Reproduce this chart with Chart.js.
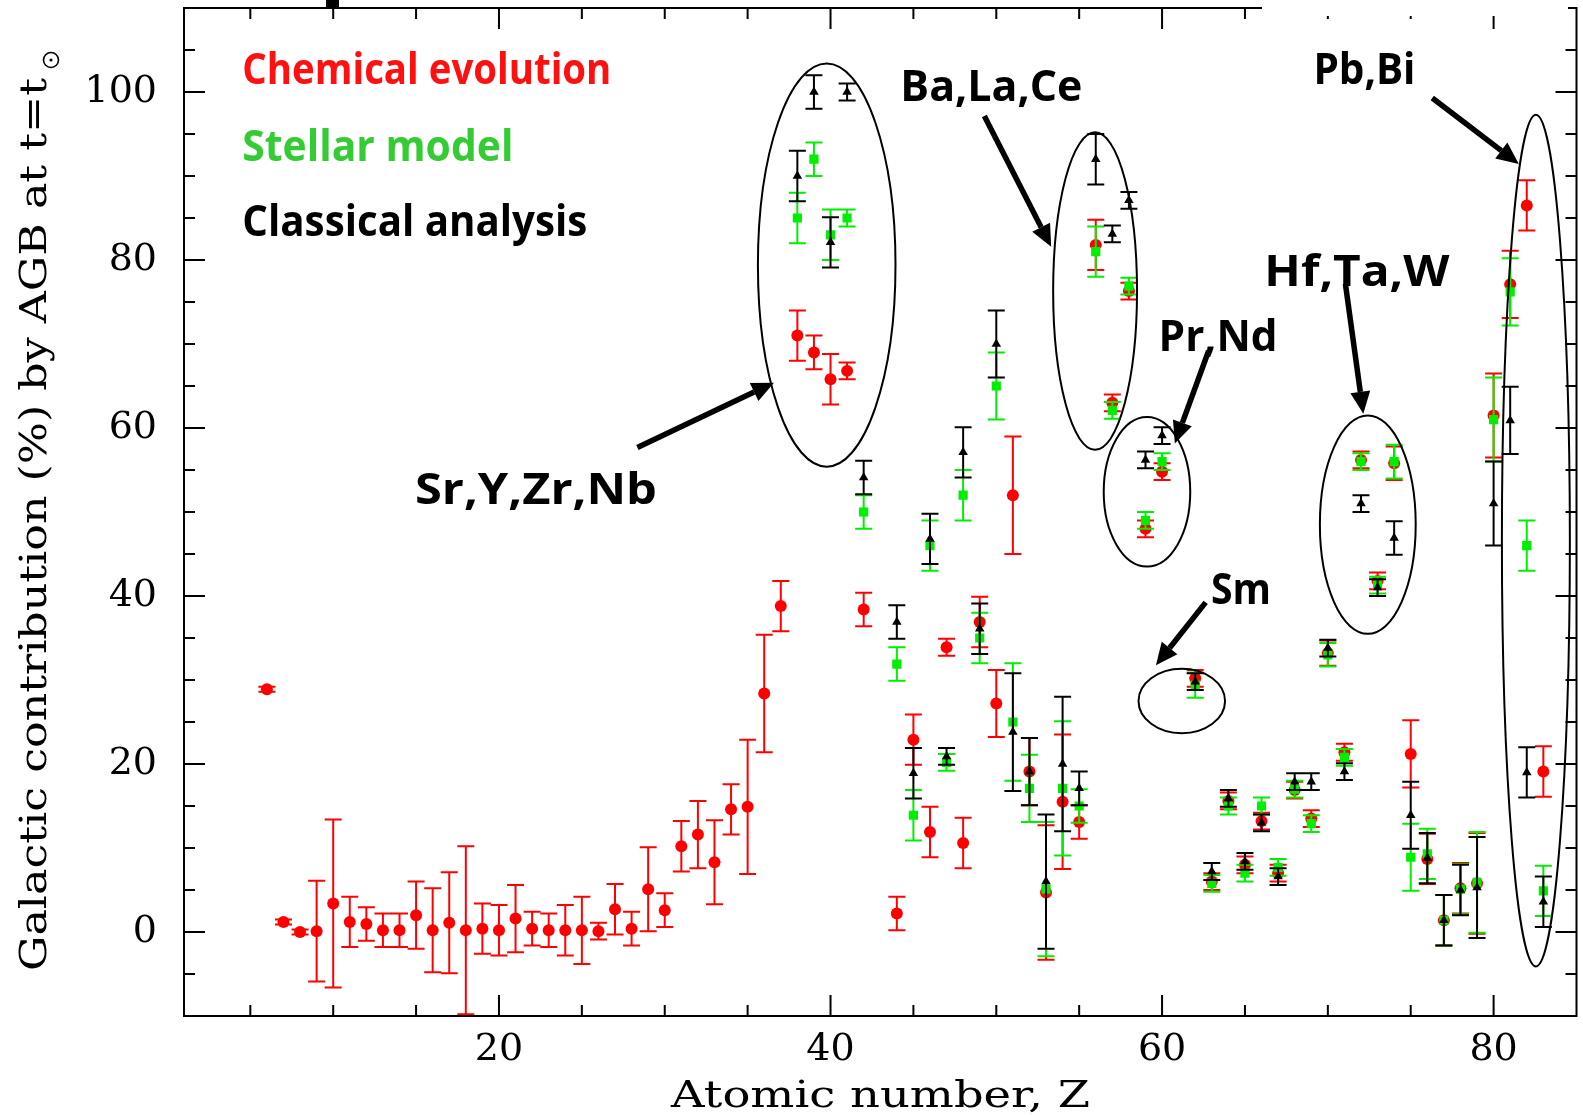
<!DOCTYPE html>
<html>
<head>
<meta charset="utf-8">
<title>Galactic s-process contribution by AGB stars</title>
<script src="https://cdn.jsdelivr.net/npm/chart.js@4.4.1/dist/chart.umd.min.js"></script>
<style>
  html, body { margin: 0; padding: 0; background: #fff; }
  #wrap { width: 1583px; height: 1115px; position: relative; }
</style>
</head>
<body>
<div id="wrap"><canvas id="chart" width="1583" height="1115"></canvas></div>
<script>
// ---- Data: galactic contribution (%) by AGB stars at t = t_sun, per atomic number Z ----

const seriesNames = ['Chemical evolution', 'Stellar model', 'Classical analysis'];

// Chemical evolution
const redZ = [6, 7, 8, 9, 10, 11, 12, 13, 14, 15, 16, 17, 18, 19, 20, 21, 22, 23, 24, 25, 26, 27, 28, 29, 30,
  31, 32, 33, 34, 35, 36, 37, 38, 39, 40, 41, 42, 44, 45, 46, 47, 48, 49, 50, 51, 52, 53, 54, 55,
  56, 57, 58, 59, 60, 62, 63, 64, 65, 66, 67, 68, 69, 70, 71, 72, 73, 74, 75, 76, 77, 78, 79, 80, 81, 82, 83];
const redVal = [28.9, 1.2, 0.0, 0.1, 3.4, 1.2, 0.95, 0.2, 0.2, 2.0, 0.2, 1.1, 0.2, 0.4, 0.2, 1.6, 0.4, 0.2, 0.2, 0.2, 0.1, 2.7, 0.4, 5.1, 2.6,
  10.2, 11.6, 8.3, 14.6, 14.9, 28.4, 38.8, 71.0, 69.0, 65.8, 66.8, 38.4, 2.2, 22.9, 11.9, 33.9, 10.6, 36.9, 27.2, 52.0, 19.1, 4.7, 15.5, 13.1,
  81.8, 63.0, 76.3, 48.0, 54.8, 30.2, 6.0, 15.6, 8.0, 13.2, 7.0, 16.9, 13.5, 33.2, 21.4, 56.2, 41.8, 55.8, 21.2, 8.7, 1.4, 5.2, 5.8, 61.5, 77.1, 86.5, 19.1];
const redErr = [0.3, 0.3, 0.3, 6, 10, 3, 2, 2, 2, 4, 5, 6, 10, 3, 3, 4, 2, 2, 3, 4, 1, 3, 2, 5, 2,
  3, 4, 5, 3, 8, 7, 3, 3, 2, 3, 1, 2, 2, 3, 3, 1, 3, 3, 4, 7, 4, 8, 8, 2,
  3, 1, 1, 1, 1, 1, 1, 1, 1, 1, 1, 1, 1, 1.5, 1, 1, 1, 2, 4, 3, 3, 3, 6, 5, 4, 3, 3];

// Stellar model
const greenZ = [38, 39, 40, 41, 42, 44, 45, 46, 47, 48, 49, 50, 51, 52, 53, 54, 55, 56, 57, 58, 59, 60,
  62, 63, 64, 65, 66, 67, 68, 69, 70, 71, 72, 73, 74, 75, 76, 77, 78, 79, 80, 81, 82, 83];
const greenVal = [85.0, 92.0, 83.0, 85.0, 50.0, 31.9, 13.9, 46.0, 20.2, 52.0, 35.0, 65.0, 25.0, 17.1, 5.1, 17.1, 15.0, 81.0, 62.1, 76.9, 49.0, 56.0,
  29.4, 5.8, 15.0, 7.0, 15.0, 7.7, 17.0, 12.9, 33.0, 20.8, 56.0, 41.3, 56.0, 8.9, 9.3, 1.4, 5.1, 5.9, 61.0, 76.2, 46.0, 4.9];
const greenErr = [3, 2, 3, 1, 2, 2, 3, 3, 1, 3, 3, 4, 7, 4, 8, 8, 2, 3, 1, 1, 1, 1,
  1.5, 1, 1, 1, 1, 1, 1, 1, 1.4, 1, 1, 1, 2, 4, 3, 3, 3, 6, 5, 4, 3, 3];

// Classical analysis
const blackZ = [38, 39, 40, 41, 42, 44, 45, 46, 47, 48, 49, 50, 51, 52, 53, 54, 55, 56, 57, 58, 59, 60,
  62, 63, 64, 65, 66, 67, 68, 69, 70, 71, 72, 73, 74, 75, 76, 77, 78, 79, 80, 81, 82, 83];
const blackVal = [90.0, 100.0, 82.1, 100.0, 54.1, 36.9, 18.9, 46.8, 20.9, 57.1, 36.1, 70.0, 23.8, 19.1, 6.0, 20.0, 17.1, 92.0, 83.1, 87.1, 56.2, 59.1,
  29.8, 7.2, 15.9, 8.4, 13.0, 6.6, 17.9, 17.9, 33.8, 19.1, 51.0, 41.0, 46.9, 13.9, 8.8, 1.4, 5.0, 5.3, 51.0, 60.9, 19.0, 3.6];
const blackErr = [3, 2, 3, 1, 2, 2, 3, 3, 1, 3, 3, 4, 7, 4, 8, 8, 2, 3, 1, 1, 1, 1,
  1, 1, 1, 1, 1, 1, 1, 1, 1, 1, 1, 1, 2, 4, 3, 3, 3, 6, 5, 4, 3, 3];

// Axis tick labels
const xTickLabels = [20, 40, 60, 80];
const yTickLabels = [0, 20, 40, 60, 80, 100];

// Element groups called out on the plot
const groupNames = ['Sr,Y,Zr,Nb', 'Ba,La,Ce', 'Pr,Nd', 'Sm', 'Hf,Ta,W', 'Pb,Bi'];

// ---- Annotation layout (data coordinates: x = Z, y = %) ----
const groupLayout = [
  { label: { x: 14.93, y: 51.0, w: 242 }, ellipse: { cx: 39.77, cy: 79.4, rx: 4.15, ry: 24.0 }, arrow: [28.35, 57.67, 36.59, 65.4] },
  { label: { x: 44.21, y: 98.93, w: 182 }, ellipse: { cx: 55.96, cy: 76.3, rx: 2.53, ry: 18.9 }, arrow: [49.28, 97.15, 53.31, 81.57] },
  { label: { x: 59.79, y: 69.2, w: 119 }, ellipse: { cx: 59.09, cy: 52.4, rx: 2.61, ry: 8.9 }, arrow: [62.81, 69.2, 60.77, 58.15] },
  { label: { x: 62.95, y: 39.08, w: 60 }, ellipse: { cx: 61.19, cy: 27.5, rx: 2.61, ry: 3.84 }, arrow: [62.63, 39.24, 59.63, 31.75] },
  { label: { x: 66.17, y: 76.93, w: 185 }, ellipse: { cx: 72.41, cy: 48.5, rx: 2.89, ry: 13.0 }, arrow: [71.06, 77.17, 72.14, 61.71] },
  { label: { x: 69.13, y: 100.99, w: 102 }, ellipse: { cx: 82.55, cy: 46.6, rx: 2.05, ry: 50.7 }, arrow: [76.3, 99.29, 81.52, 91.44] }
];
const keyLayout = [
  { x: 4.52, y: 100.9, w: 369, color: '#ff1010' },
  { x: 4.52, y: 91.8, w: 271, color: '#33cc33' },
  { x: 4.52, y: 82.9, w: 345, color: '#000000' }
];

const RED = '#ff0000', GREEN = '#00ee00', BLACK = '#000000';
const toPoints = (zs, vs) => zs.map((z, i) => ({ x: z, y: vs[i] }));

// Vertical error bars with caps, drawn under each dataset's markers
const errorBars = {
  id: 'errorBars',
  beforeDatasetDraw(chart, args) {
    const ds = chart.data.datasets[args.index];
    if (!ds.errors) return;
    const { ctx, chartArea: a, scales: { x, y } } = chart;
    ctx.save();
    ctx.beginPath();
    ctx.rect(a.left, a.top, a.right - a.left, a.bottom - a.top);
    ctx.clip();
    ctx.strokeStyle = ds.errorColor;
    ctx.lineWidth = 2;
    const cap = 8.5;
    ds.data.forEach((p, i) => {
      const e = ds.errors[i];
      const px = x.getPixelForValue(p.x);
      const y1 = y.getPixelForValue(p.y + e);
      const y2 = y.getPixelForValue(p.y - e);
      ctx.beginPath();
      ctx.moveTo(px, y1); ctx.lineTo(px, y2);
      ctx.moveTo(px - cap, y1); ctx.lineTo(px + cap, y1);
      ctx.moveTo(px - cap, y2); ctx.lineTo(px + cap, y2);
      ctx.stroke();
    });
    ctx.restore();
  }
};

// Text fitted to a box: cap height sets the size, width sets the horizontal scale
function boxText(ctx, text, left, baseline, width, capH, family, weight, capRatio, color) {
  ctx.save();
  ctx.font = `${weight} ${capH / capRatio}px ${family}`;
  ctx.fillStyle = color;
  ctx.textAlign = 'left';
  ctx.textBaseline = 'alphabetic';
  const m = ctx.measureText(text).width;
  ctx.translate(left, baseline);
  ctx.scale(width / m, 1);
  ctx.fillText(text, 0, 0);
  ctx.restore();
}

function arrow(ctx, x1, y1, x2, y2) {
  const ang = Math.atan2(y2 - y1, x2 - x1);
  const headL = 22, headW = 10;
  const bx = x2 - Math.cos(ang) * headL, by = y2 - Math.sin(ang) * headL;
  ctx.save();
  ctx.strokeStyle = '#000';
  ctx.fillStyle = '#000';
  ctx.lineWidth = 5.5;
  ctx.beginPath();
  ctx.moveTo(x1, y1); ctx.lineTo(bx, by);
  ctx.stroke();
  ctx.beginPath();
  ctx.moveTo(x2, y2);
  ctx.lineTo(bx + Math.sin(ang) * headW, by - Math.cos(ang) * headW);
  ctx.lineTo(bx - Math.sin(ang) * headW, by + Math.cos(ang) * headW);
  ctx.closePath();
  ctx.fill();
  ctx.restore();
}

// Boxed frame with inward ticks, titles, key and group call-outs
const decorations = {
  id: 'decorations',
  afterDraw(chart) {
    const { ctx, chartArea: a, scales: { x, y } } = chart;
    ctx.save();
    ctx.strokeStyle = '#000';
    ctx.lineWidth = 2;
    ctx.strokeRect(a.left, a.top, a.right - a.left, a.bottom - a.top);
    ctx.beginPath();
    for (let v = 5; v < 85; v += 5) {
      const L = v % 20 === 0 ? 21 : 11;
      const px = x.getPixelForValue(v);
      ctx.moveTo(px, a.bottom); ctx.lineTo(px, a.bottom - L);
      ctx.moveTo(px, a.top); ctx.lineTo(px, a.top + L);
    }
    for (let v = -5; v < 110; v += 5) {
      const L = v % 20 === 0 ? 21 : 11;
      const py = y.getPixelForValue(v);
      ctx.moveTo(a.left, py); ctx.lineTo(a.left + L, py);
      ctx.moveTo(a.right, py); ctx.lineTo(a.right - L, py);
    }
    ctx.stroke();
    ctx.restore();

    // blank strip over the upper right part of the frame, and a clipped heading mark
    ctx.save();
    ctx.fillStyle = '#fff';
    ctx.fillRect(1262, 0, 306, 16);
    ctx.fillStyle = '#000';
    ctx.fillRect(326, 0, 13, 7);
    ctx.restore();

    // axis titles
    const serif = '"DejaVu Serif", serif';
    boxText(ctx, 'Atomic number, Z', 671, 1107, 419, 27, serif, 'normal', 0.729, '#000');
    ctx.save();
    ctx.translate(46, 971);
    ctx.rotate(-Math.PI / 2);
    boxText(ctx, 'Galactic contribution (%) by AGB at t=t', 0, 0, 893, 27, serif, 'normal', 0.729, '#000');
    ctx.restore();
    // solar symbol subscript
    ctx.save();
    ctx.strokeStyle = '#000';
    ctx.fillStyle = '#000';
    ctx.lineWidth = 1.6;
    ctx.beginPath(); ctx.arc(51, 60, 7.5, 0, Math.PI * 2); ctx.stroke();
    ctx.beginPath(); ctx.arc(51, 60, 1.6, 0, Math.PI * 2); ctx.fill();
    ctx.restore();

    const sans = '"Open Sans", "DejaVu Sans", sans-serif';
    // key
    keyLayout.forEach((k, i) => {
      boxText(ctx, seriesNames[i], x.getPixelForValue(k.x), y.getPixelForValue(k.y), k.w, 31, sans, 'bold', 0.714, k.color);
    });

    // group ellipses, arrows and labels
    groupLayout.forEach((g, i) => {
      const e = g.ellipse;
      const cx = x.getPixelForValue(e.cx), cy = y.getPixelForValue(e.cy);
      const rx = Math.abs(x.getPixelForValue(e.cx + e.rx) - cx);
      const ry = Math.abs(y.getPixelForValue(e.cy + e.ry) - cy);
      ctx.save();
      ctx.strokeStyle = '#000';
      ctx.lineWidth = 2;
      ctx.beginPath();
      ctx.ellipse(cx, cy, rx, ry, 0, 0, Math.PI * 2);
      ctx.stroke();
      ctx.restore();
      const [ax1, ay1, ax2, ay2] = g.arrow;
      arrow(ctx, x.getPixelForValue(ax1), y.getPixelForValue(ay1), x.getPixelForValue(ax2), y.getPixelForValue(ay2));
      boxText(ctx, groupNames[i], x.getPixelForValue(g.label.x), y.getPixelForValue(g.label.y), g.label.w, 31, sans, 'bold', 0.714, '#000');
    });
  }
};

new Chart(document.getElementById('chart'), {
  type: 'scatter',
  data: {
    datasets: [
      {
        label: seriesNames[2],
        data: toPoints(blackZ, blackVal),
        errors: blackErr,
        errorColor: BLACK,
        pointStyle: 'triangle',
        pointRadius: 5.5,
        backgroundColor: BLACK,
        borderColor: BLACK,
        borderWidth: 0,
        order: 0
      },
      {
        label: seriesNames[1],
        data: toPoints(greenZ, greenVal),
        errors: greenErr,
        errorColor: GREEN,
        pointStyle: 'rect',
        pointRadius: 6.5,
        backgroundColor: GREEN,
        borderColor: GREEN,
        borderWidth: 0,
        order: 1
      },
      {
        label: seriesNames[0],
        data: toPoints(redZ, redVal),
        errors: redErr,
        errorColor: RED,
        pointStyle: 'circle',
        pointRadius: 6,
        backgroundColor: RED,
        borderColor: RED,
        borderWidth: 0,
        order: 2
      }
    ]
  },
  options: {
    responsive: false,
    animation: false,
    devicePixelRatio: 1,
    layout: { padding: { top: 8, right: 3, bottom: 0, left: 0 } },
    plugins: { legend: { display: false }, tooltip: { enabled: false } },
    scales: {
      x: {
        type: 'linear',
        min: 1,
        max: 85,
        grid: { display: false, drawTicks: false },
        border: { display: false },
        afterBuildTicks(scale) { scale.ticks = xTickLabels.map(v => ({ value: v })); },
        afterFit(scale) {
          scale.height = 99;
          scale.paddingLeft = 0;
          scale.paddingRight = 0;
        },
        ticks: {
          autoSkip: false,
          maxRotation: 0,
          padding: 11,
          color: '#000',
          font: { family: '"DejaVu Serif", serif', size: 38 },
          callback: v => String(v)
        }
      },
      y: {
        type: 'linear',
        min: -10,
        max: 110,
        grid: { display: false, drawTicks: false },
        border: { display: false },
        afterBuildTicks(scale) { scale.ticks = yTickLabels.map(v => ({ value: v })); },
        afterFit(scale) {
          scale.width = 184;
          scale.paddingTop = 0;
          scale.paddingBottom = 0;
        },
        ticks: {
          autoSkip: false,
          padding: 27,
          color: '#000',
          font: { family: '"DejaVu Serif", serif', size: 38 },
          callback: v => String(v)
        }
      }
    }
  },
  plugins: [errorBars, decorations]
});
</script>
</body>
</html>
